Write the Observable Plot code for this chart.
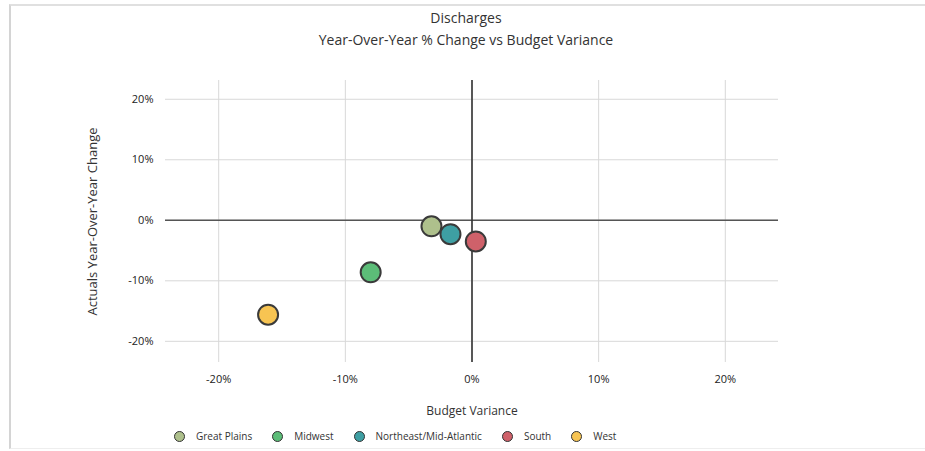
<!DOCTYPE html>
<html>
<head>
<meta charset="utf-8">
<script src="https://cdn.jsdelivr.net/npm/d3@7"></script>
<script src="https://cdn.jsdelivr.net/npm/@observablehq/plot@0.6"></script>
<style>
  body { margin: 0; background: #fff; font-family: "Open Sans", sans-serif; }
  #wrap { position: relative; width: 925px; height: 451px; overflow: hidden; }
  #frame { position: absolute; left: 9px; top: 4px; width: 930px; height: 442px;
           border-left: 2px solid #d4d4d4; border-top: 2px solid #e0e0e0; border-bottom: 1px solid #eee; }
  .title { position: absolute; left: 0; width: 932px; text-align: center; color: #333; font-size: 14px; }
  #chart { position: absolute; left: 0; top: 60px; }
  #legend { position: absolute; left: 174px; top: 429px; display: flex; align-items: center;
            font-size: 10px; color: #333; white-space: nowrap; }
  #legend .item { display: flex; align-items: center; margin-right: 20px; }
  #legend .sw { width: 11px; height: 11px; border-radius: 50%; border: 1.5px solid #333;
                margin-right: 11px; box-sizing: border-box; }
</style>
</head>
<body>
<div id="wrap">
  <div id="frame"></div>
  <div class="title" style="top:8px">Discharges</div>
  <div class="title" style="top:30px">Year-Over-Year % Change vs Budget Variance</div>
  <div id="chart"></div>
  <div id="legend"></div>
</div>
<script>
const regions = ["Great Plains", "Midwest", "Northeast/Mid-Atlantic", "South", "West"];
const budgetVariance = [-3.2, -8.0, -1.7, 0.3, -16.1];
const yoyChange = [-1.0, -8.6, -2.3, -3.5, -15.6];
const colors = ["#aec08c", "#5cbd78", "#3e9fa3", "#cf616a", "#f7c452"];
const xTicks = [-20, -10, 0, 10, 20];
const yTicks = [-20, -10, 0, 10, 20];

const data = regions.map((r, i) => ({region: r, x: budgetVariance[i], y: yoyChange[i]}));
const fmt = d => d + "%";

const plot = Plot.plot({
  width: 925,
  height: 370,
  marginLeft: 165,
  marginRight: 147,
  marginTop: 20,
  marginBottom: 68,
  style: {fontFamily: "Open Sans, sans-serif", fontSize: "11px", color: "#222", background: "transparent"},
  x: {domain: [-24.2, 24.2], ticks: xTicks, tickFormat: fmt, tickSize: 0, tickPadding: 13,
      label: "Budget Variance", labelAnchor: "center", labelArrow: "none", labelOffset: 52},
  y: {domain: [-23.5, 23.1], ticks: yTicks, tickFormat: fmt, tickSize: 0, tickPadding: 12,
      label: "Actuals Year-Over-Year Change", labelAnchor: "center", labelArrow: "none", labelOffset: 78},
  color: {domain: regions, range: colors},
  marks: [
    Plot.gridX(xTicks, {stroke: "#d8d8d8", strokeOpacity: 1}),
    Plot.gridY(yTicks, {stroke: "#d8d8d8", strokeOpacity: 1}),
    Plot.ruleY([0], {stroke: "#555", strokeWidth: 1.6}),
    Plot.ruleX([0], {stroke: "#333", strokeWidth: 1.6}),
    Plot.dot(data, {x: "x", y: "y", fill: "region", r: 10, stroke: "#3a3a3a", strokeWidth: 2})
  ]
});
plot.querySelectorAll('[aria-label="x-axis label"] text').forEach(t => { t.style.fontSize = "12px"; t.setAttribute("fill", "#333"); });
plot.querySelectorAll('[aria-label="y-axis label"] text').forEach(t => { t.style.fontSize = "13px"; t.setAttribute("fill", "#333"); });
plot.querySelectorAll('[aria-label="x-axis tick label"], [aria-label="y-axis tick label"]').forEach(g => g.setAttribute("fill", "#222"));
document.getElementById("chart").appendChild(plot);

const legend = document.getElementById("legend");
regions.forEach((r, i) => {
  const item = document.createElement("div");
  item.className = "item";
  const sw = document.createElement("div");
  sw.className = "sw";
  sw.style.background = colors[i];
  const lab = document.createElement("span");
  lab.textContent = r;
  item.appendChild(sw); item.appendChild(lab);
  legend.appendChild(item);
});
</script>
</body>
</html>
